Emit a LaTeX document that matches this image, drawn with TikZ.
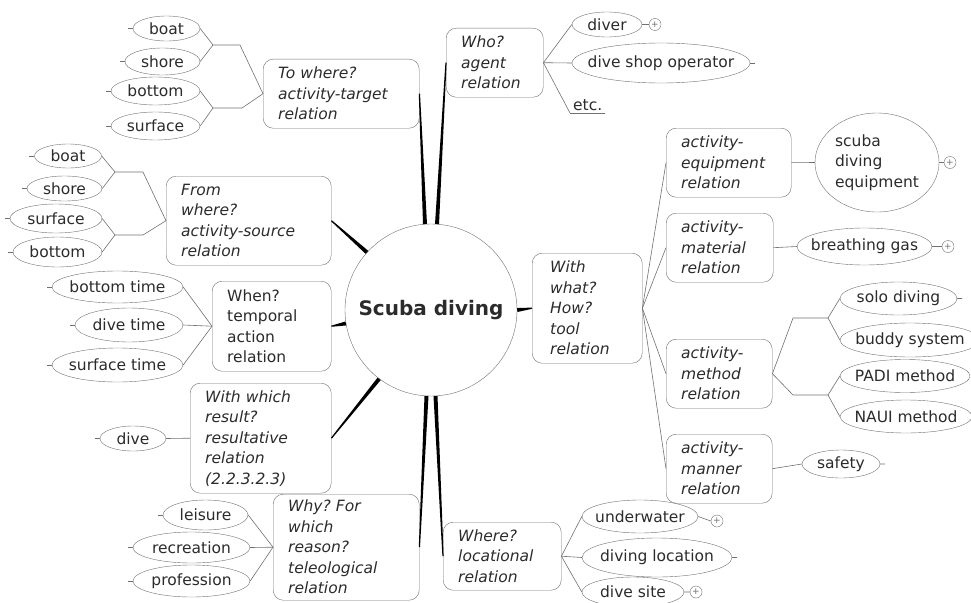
\documentclass[tikz,border=0pt]{standalone}
\usepackage{fontspec}
\setmainfont{DejaVu Sans}
\usepackage{tikz}
\usetikzlibrary{calc, shapes.geometric}
\definecolor{linegray}{HTML}{707070}
\definecolor{textgray}{HTML}{2B2B2B}
\frenchspacing
\newcommand\nodefont{\fontsize{15.5}{20.5}\selectfont}
\newcommand\lf[1]{\makebox[0pt]{#1}}
% thick tapered arm from the hub to a relation box
\newcommand\arm[2]{\fill[black] ($(#1)!2pt!90:(#2)$) -- ($(#2)!0.6pt!-90:(#1)$)
  -- ($(#2)!0.6pt!90:(#1)$) -- ($(#1)!2pt!-90:(#2)$) -- cycle;}

\begin{document}
\begin{tikzpicture}[x=1pt,y=-1pt,font=\nodefont,text=textgray,
    hub node/.style={circle,draw=linegray,minimum size=172pt,
      font=\fontsize{20}{24}\selectfont\bfseries},
    rel node/.style={draw=linegray,rounded corners=10pt,anchor=north west,
      align=left,inner xsep=15pt,text width=#1,font=\nodefont\itshape},
    leaf/.style n args={2}{ellipse,draw=linegray,inner sep=0pt,
      minimum width=#1pt,minimum height=#2pt},
    plus/.style={circle,draw=linegray,inner sep=0pt,minimum size=12pt,
      text=linegray,font=\fontsize{9}{9}\selectfont},
    twig/.style={draw=linegray,line width=0.6pt}]
  \useasboundingbox (0,0) rectangle (971,602);

  \node[hub node] (hub) at (431,310) {Scuba diving};

  % relation boxes
  \node[rel node=126pt,minimum height=69pt] (towhere) at (263,59) {To where?\\activity-target\\relation};
  \node[rel node=67pt,minimum height=69pt] (who) at (446,28) {Who?\\agent\\relation};
  \node[rel node=135pt,minimum height=89pt] (fromwhere) at (166,176) {From\\where?\\activity-source\\relation};
  \node[rel node=89pt,minimum height=90pt,font=\nodefont] (when) at (212,281) {When?\\temporal\\action\\relation};
  \node[rel node=111pt,minimum height=110pt] (result) at (190,383) {With which\\result?\\resultative\\relation\\(2.2.3.2.3)};
  \node[rel node=116pt,minimum height=106pt] (why) at (273,494) {Why? For\\which\\reason?\\teleological\\relation};
  \node[rel node=88pt,minimum height=68pt] (where) at (443,522) {Where?\\locational\\relation};
  \node[rel node=74pt,minimum height=110pt,inner xsep=18pt] (tool) at (532,253) {With\\what?\\How?\\tool\\relation};
  \node[rel node=95pt,minimum height=69pt] (equip) at (666,128) {activity-\\equipment\\relation};
  \node[rel node=77pt,minimum height=69pt] (material) at (666,213) {activity-\\material\\relation};
  \node[rel node=76pt,minimum height=69pt] (method) at (666,339) {activity-\\method\\relation};
  \node[rel node=76pt,minimum height=69pt] (manner) at (666,434) {activity-\\manner\\relation};

  \arm{hub.94}{towhere.east}
  \arm{hub.86}{who.west}
  \arm{hub.138}{fromwhere.east}
  \arm{hub.189}{when.east}
  \arm{hub.233}{result.east}
  \arm{hub.267}{why.east}
  \arm{hub.273}{where.west}
  \arm{hub.0}{tool.west}

  % to where?
  \node[leaf={67}{25}] (ta1) at (166.5,28.5) {\lf{boat}};
  \node[leaf={75}{27}] (ta2) at (162.5,61.5) {\lf{shore}};
  \node[leaf={89}{28}] (ta3) at (155.5,91) {\lf{bottom}};
  \node[leaf={89}{28}] (ta4) at (155.5,126) {\lf{surface}};
  \coordinate (jt1) at (213,45);  \coordinate (kt1) at (240,45);
  \coordinate (jt2) at (213,108); \coordinate (kt2) at (242,108);
  \draw[twig] (ta1.east) -- (jt1) -- (ta2.east) (jt1) -- (kt1) -- (towhere.west)
    -- (kt2) -- (jt2) (ta3.east) -- (jt2) -- (ta4.east);

  % from where?
  \node[leaf={67}{24}] (fa1) at (68,156) {\lf{boat}};
  \node[leaf={75}{25}] (fa2) at (64.5,188.5) {\lf{shore}};
  \node[leaf={92}{29}] (fa3) at (56,218.5) {\lf{surface}};
  \node[leaf={89}{30}] (fa4) at (57.5,252) {\lf{bottom}};
  \coordinate (jf1) at (115,172); \coordinate (kf1) at (143,172);
  \coordinate (jf2) at (115,235); \coordinate (kf2) at (143,235);
  \draw[twig] (fa1.east) -- (jf1) -- (fa2.east) (jf1) -- (kf1) -- (fromwhere.west)
    -- (kf2) -- (jf2) (fa3.east) -- (jf2) -- (fa4.east);

  % when?
  \node[leaf={131}{32}] (wa1) at (117.5,287) {\lf{bottom time}};
  \node[leaf={108}{34}] (wa2) at (129,325) {\lf{dive time}};
  \node[leaf={131}{34}] (wa3) at (117.5,365) {\lf{surface time}};
  \path[twig] (when.west) edge (wa1.east) edge (wa2.east) edge (wa3.east);

  % with which result?
  \node[leaf={66}{25}] (ra1) at (133,438.5) {\lf{dive}};
  \path[twig] (result.west) edge (ra1.east);

  % why?
  \node[leaf={85}{30}] (ya1) at (205.5,515) {\lf{leisure}};
  \node[leaf={117}{31}] (ya2) at (191.5,547.5) {\lf{recreation}};
  \node[leaf={117}{32}] (ya3) at (191.5,581) {\lf{profession}};
  \path[twig] (why.west) edge (ya1.east) edge (ya2.east) edge (ya3.east);

  \draw[twig] (ta1.west) -- ++(-5,0) (ta2.west) -- ++(-5,0) (ta3.west) -- ++(-5,0)
    (ta4.west) -- ++(-5,0) (fa1.west) -- ++(-5,0) (fa2.west) -- ++(-5,0)
    (fa3.west) -- ++(-5,0) (fa4.west) -- ++(-5,0) (wa1.west) -- ++(-5,0)
    (wa2.west) -- ++(-5,0) (wa3.west) -- ++(-5,0) (ra1.west) -- ++(-5,0)
    (ya1.west) -- ++(-5,0) (ya2.west) -- ++(-5,0) (ya3.west) -- ++(-5,0);

  % who?
  \node[leaf={70}{25}] (oa1) at (607,24.5) {\lf{diver}};
  \node[plus] (p1) at (655,24.5) {+};
  \node[leaf={178}{40}] (oa2) at (661,63) {\lf{dive shop operator}};
  \node[anchor=south west,inner xsep=3pt,inner ysep=2pt] (etc) at (570,113) {etc.};
  \path[twig] (who.east) edge (oa1.west) edge (oa2.west) edge (etc.south west);
  \draw[twig] (etc.south west) -- (etc.south east) (oa1.east) -- (p1.west)
    (oa2.east) -- ++(5,0);

  % with what? how?
  \path[twig] (tool.east) edge (equip.west) edge (material.west)
    edge (method.west) edge (manner.west);
  \node[ellipse,draw=linegray,inner sep=0pt,minimum width=124pt,minimum height=99pt,
    align=left] (scuba) at (877,162.5) {scuba\\diving\\equipment};
  \node[plus] (p2) at (950,162.5) {+};
  \node[leaf={135}{37}] (breath) at (864.5,246.5) {\lf{breathing gas}};
  \node[plus] (p3) at (948,246.5) {+};
  \draw[twig] (equip.east) -- (scuba.west) (scuba.east) -- (p2.west)
    (material.east) -- (breath.west) (breath.east) -- (p3.west);

  \node[leaf={117}{33}] (ma1) at (898.5,298.5) {\lf{solo diving}};
  \node[leaf={140}{34}] (ma2) at (910,340) {\lf{buddy system}};
  \node[leaf={130}{33}] (ma3) at (905,376) {\lf{PADI method}};
  \node[leaf={132}{33}] (ma4) at (906,416.5) {\lf{NAUI method}};
  \coordinate (jm1) at (793,318); \coordinate (km1) at (828,318);
  \coordinate (jm2) at (793,395); \coordinate (km2) at (828,395);
  \draw[twig] (ma1.west) -- (km1) -- (ma2.west) (km1) -- (jm1) -- (method.east)
    -- (jm2) -- (km2) (ma3.west) -- (km2) -- (ma4.west)
    (ma1.east) -- ++(5,0);

  \node[leaf={78}{28}] (safety) at (841,464) {\lf{safety}};
  \draw[twig] (manner.east) -- (safety.west) (safety.east) -- ++(5,0);

  % where?
  \node[leaf={116}{33}] (la1) at (640,516.5) {\lf{underwater}};
  \node[plus] (p4) at (717,521) {+};
  \node[leaf={150}{39}] (la2) at (657,557.5) {\lf{diving location}};
  \node[leaf={102}{30}] (la3) at (633,592) {\lf{dive site}};
  \node[plus] (p5) at (696,592) {+};
  \path[twig] (where.east) edge (la1.west) edge (la2.west) edge (la3.west);
  \draw[twig] (la1.east) -- (p4.west) (la2.east) -- ++(5,0) (la3.east) -- (p5.west);
\end{tikzpicture}
\end{document}
